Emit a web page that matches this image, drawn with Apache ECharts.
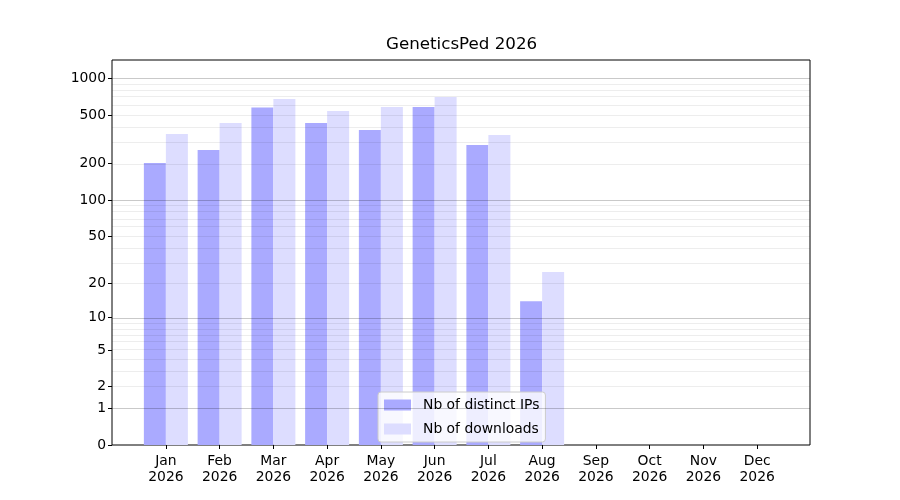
<!DOCTYPE html>
<html>
<head>
<meta charset="utf-8">
<script src="https://cdn.jsdelivr.net/npm/echarts@6/dist/echarts.min.js"></script>
<style>
  html, body { margin: 0; padding: 0; background: #fff; }
  #main { width: 900px; height: 500px; }
</style>
</head>
<body>
<div id="main"></div>
<script>
var months = ['Jan', 'Feb', 'Mar', 'Apr', 'May', 'Jun', 'Jul', 'Aug', 'Sep', 'Oct', 'Nov', 'Dec'];
var year = '2026';
var distinctIPs = [202, 258, 575, 431, 377, 583, 284, 14, 0, 0, 0, 0];
var downloads = [350, 431, 677, 540, 583, 703, 343, 25, 0, 0, 0, 0];
var yLabels = [0, 1, 2, 5, 10, 20, 50, 100, 200, 500, 1000];
var majorGrid = [1, 10, 100, 1000];
var minorGrid = [2, 3, 4, 5, 6, 7, 8, 9, 20, 30, 40, 50, 60, 70, 80, 90,
                 200, 300, 400, 500, 600, 700, 800, 900];

// y scale is log10(1 + x)
var tr = function(v) { return Math.log10(1 + v); };
var yMax = 3.15;

var gridLines = [];
majorGrid.forEach(function(v) {
    gridLines.push({ yAxis: tr(v), lineStyle: { color: 'rgba(0,0,0,0.21)', width: 1, type: 'solid' } });
});
minorGrid.forEach(function(v) {
    gridLines.push({ yAxis: tr(v), lineStyle: { color: 'rgba(0,0,0,0.07)', width: 1, type: 'solid' } });
});

var myChart = echarts.init(document.getElementById('main'));
myChart.setOption({
    animation: false,
    textStyle: { fontFamily: 'DejaVu Sans' },
    title: {
        text: 'GeneticsPed ' + year,
        left: 386,
        top: 36,
        padding: 0,
        textStyle: { fontSize: 16.7, fontWeight: 'normal', color: '#000' }
    },
    legend: {
        orient: 'vertical',
        left: 378,
        top: 392,
        padding: [6, 6, 6, 6],
        itemWidth: 27,
        itemHeight: 11,
        itemGap: 10,
        icon: 'rect',
        backgroundColor: 'rgba(255,255,255,0.8)',
        borderColor: '#cccccc',
        borderWidth: 1,
        borderRadius: 3,
        textStyle: { fontSize: 13.9, color: '#000', padding: [0, 0, 0, 7] },
        data: ['Nb of distinct IPs', 'Nb of downloads']
    },
    grid: [
        { left: 112, right: 90, top: 60, bottom: 55, show: true, borderColor: '#000', borderWidth: 1, backgroundColor: 'transparent' },
        { left: 139, right: 116, top: 60, bottom: 55 }
    ],
    xAxis: [
        { type: 'value', gridIndex: 0, min: 0, max: 1, show: false },
        {
            type: 'category',
            gridIndex: 1,
            data: months.map(function(m) { return m + '\n' + year; }),
            axisLine: { show: false },
            axisTick: { show: true, alignWithLabel: true, length: 4, lineStyle: { color: '#000' } },
            axisLabel: { fontSize: 13.9, color: '#000', lineHeight: 16.5, margin: 8, interval: 0 },
            splitLine: { show: false }
        }
    ],
    yAxis: [
        {
            type: 'value',
            gridIndex: 0,
            min: 0,
            max: yMax,
            axisLine: { show: false },
            axisTick: { show: true, length: 4, lineStyle: { color: '#000' }, customValues: yLabels.map(tr) },
            axisLabel: {
                fontSize: 13.9,
                color: '#000',
                margin: 6,
                customValues: yLabels.map(tr),
                formatter: function(val) { return String(Math.round(Math.pow(10, val) - 1)); }
            },
            splitLine: { show: false }
        },
        { type: 'value', gridIndex: 1, min: 0, max: yMax, show: false, splitLine: { show: false } }
    ],
    series: [
        {
            name: 'Nb of distinct IPs',
            type: 'bar',
            xAxisIndex: 1,
            yAxisIndex: 1,
            barWidth: 22,
            barGap: '0%',
            z: 2,
            itemStyle: { color: '#aaaaff' },
            data: distinctIPs.map(tr)
        },
        {
            name: 'Nb of downloads',
            type: 'bar',
            xAxisIndex: 1,
            yAxisIndex: 1,
            barWidth: 22,
            barGap: '0%',
            z: 2,
            itemStyle: { color: '#ddddff' },
            data: downloads.map(tr)
        },
        {
            type: 'line',
            xAxisIndex: 0,
            yAxisIndex: 0,
            z: 5,
            data: [],
            markLine: {
                silent: true,
                symbol: ['none', 'none'],
                label: { show: false },
                data: gridLines
            }
        }
    ]
});
</script>
</body>
</html>
